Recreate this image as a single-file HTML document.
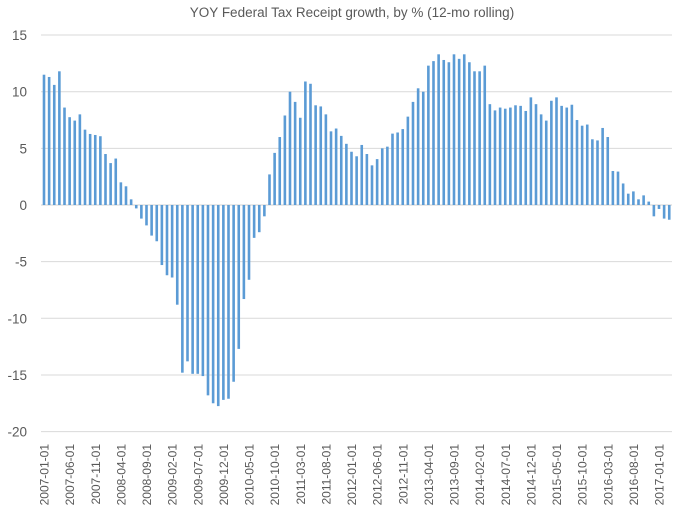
<!DOCTYPE html>
<html><head><meta charset="utf-8"><style>
html,body{margin:0;padding:0;background:#fff;}
svg{display:block;font-family:"Liberation Sans",sans-serif;}
</style></head><body>
<svg id="chart" width="673" height="508" viewBox="0 0 673 508">
<text x="352" y="17" text-anchor="middle" font-size="13.5" fill="#595959">YOY Federal Tax Receipt growth, by % (12-mo rolling)</text>
<g id="grid"></g><g id="bars"></g><g id="yticks"></g><g id="xticks"></g>
</svg>
<script>
const values = [11.5,11.3,10.6,11.8,8.6,7.75,7.45,8.0,6.65,6.27,6.18,6.07,
4.5,3.7,4.1,2.0,1.65,0.5,-0.3,-1.2,-1.8,-2.7,-3.2,-5.3,
-6.2,-6.4,-8.8,-14.8,-13.8,-14.9,-14.9,-15.1,-16.8,-17.5,-17.75,-17.2,
-17.1,-15.6,-12.7,-8.3,-6.6,-2.9,-2.4,-1.0,2.7,4.6,6.0,7.9,
10.0,9.1,7.7,10.9,10.7,8.8,8.7,8.0,6.5,6.75,6.1,5.4,
4.7,4.3,5.3,4.5,3.5,4.05,5.0,5.15,6.3,6.4,6.7,7.8,
9.1,10.3,10.0,12.3,12.7,13.3,12.8,12.6,13.3,12.9,13.3,12.6,
11.8,11.8,12.3,8.9,8.35,8.6,8.5,8.6,8.8,8.75,8.3,9.5,
8.9,8.0,7.45,9.2,9.5,8.75,8.6,8.85,7.5,7.0,7.1,5.8,
5.7,6.8,6.0,3.0,2.95,1.9,1.0,1.2,0.5,0.85,0.3,-1.0,
-0.35,-1.2,-1.3];
const yTicks = [15,10,5,0,-5,-10,-15,-20];
const startYear = 2007, startMonth = 1, labelEvery = 5;
const NS="http://www.w3.org/2000/svg";
const x0=44, dx=5.125, yZero=205, pxPerUnit=11.33, gridL=41, gridR=672;
const xPos=i=>x0+i*dx;
const yPos=v=>yZero-v*pxPerUnit;
const grid=document.getElementById('grid'), bars=document.getElementById('bars'),
      yt=document.getElementById('yticks'), xt=document.getElementById('xticks');
yTicks.forEach(t=>{
  const l=document.createElementNS(NS,'line');
  
  
  l.setAttribute('x1',gridL);l.setAttribute('x2',gridR);
  l.setAttribute('y1',yPos(t));l.setAttribute('y2',yPos(t));
  l.setAttribute('stroke',t===0?'#d0d0d0':'#d9d9d9');l.setAttribute('stroke-width','1');
  grid.appendChild(l);
  const tx=document.createElementNS(NS,'text');
  
  
  tx.setAttribute('x',27);tx.setAttribute('y',yPos(t)+5);
  tx.setAttribute('text-anchor','end');tx.setAttribute('font-size','13.5');tx.setAttribute('fill','#595959');
  tx.textContent=t;yt.appendChild(tx);
});
values.forEach((v,i)=>{
  const r=document.createElementNS(NS,'rect');
  
  
  const y=Math.min(yPos(v),yZero), h=Math.abs(yPos(v)-yZero);
  r.setAttribute('x',xPos(i)-1.3);r.setAttribute('width',2.6);
  r.setAttribute('y',y);r.setAttribute('height',Math.max(h,0.5));
  r.setAttribute('fill','#5b9bd5');
  bars.appendChild(r);
  if(i%labelEvery===0){
    const m=startMonth-1+i, yr=startYear+Math.floor(m/12), mo=(m%12)+1;
    const lab=yr+'-'+(mo<10?'0':'')+mo+'-01';
    const tx=document.createElementNS(NS,'text');
    
    
    const cx=xPos(i)+4.5, cy=444;
    tx.setAttribute('x',cx);tx.setAttribute('y',cy);
    tx.setAttribute('transform','rotate(-90 '+cx+' '+cy+')');
    tx.setAttribute('text-anchor','end');tx.setAttribute('font-size','12');tx.setAttribute('fill','#595959');
    tx.textContent=lab;xt.appendChild(tx);
  }
});
</script>
</body></html>
